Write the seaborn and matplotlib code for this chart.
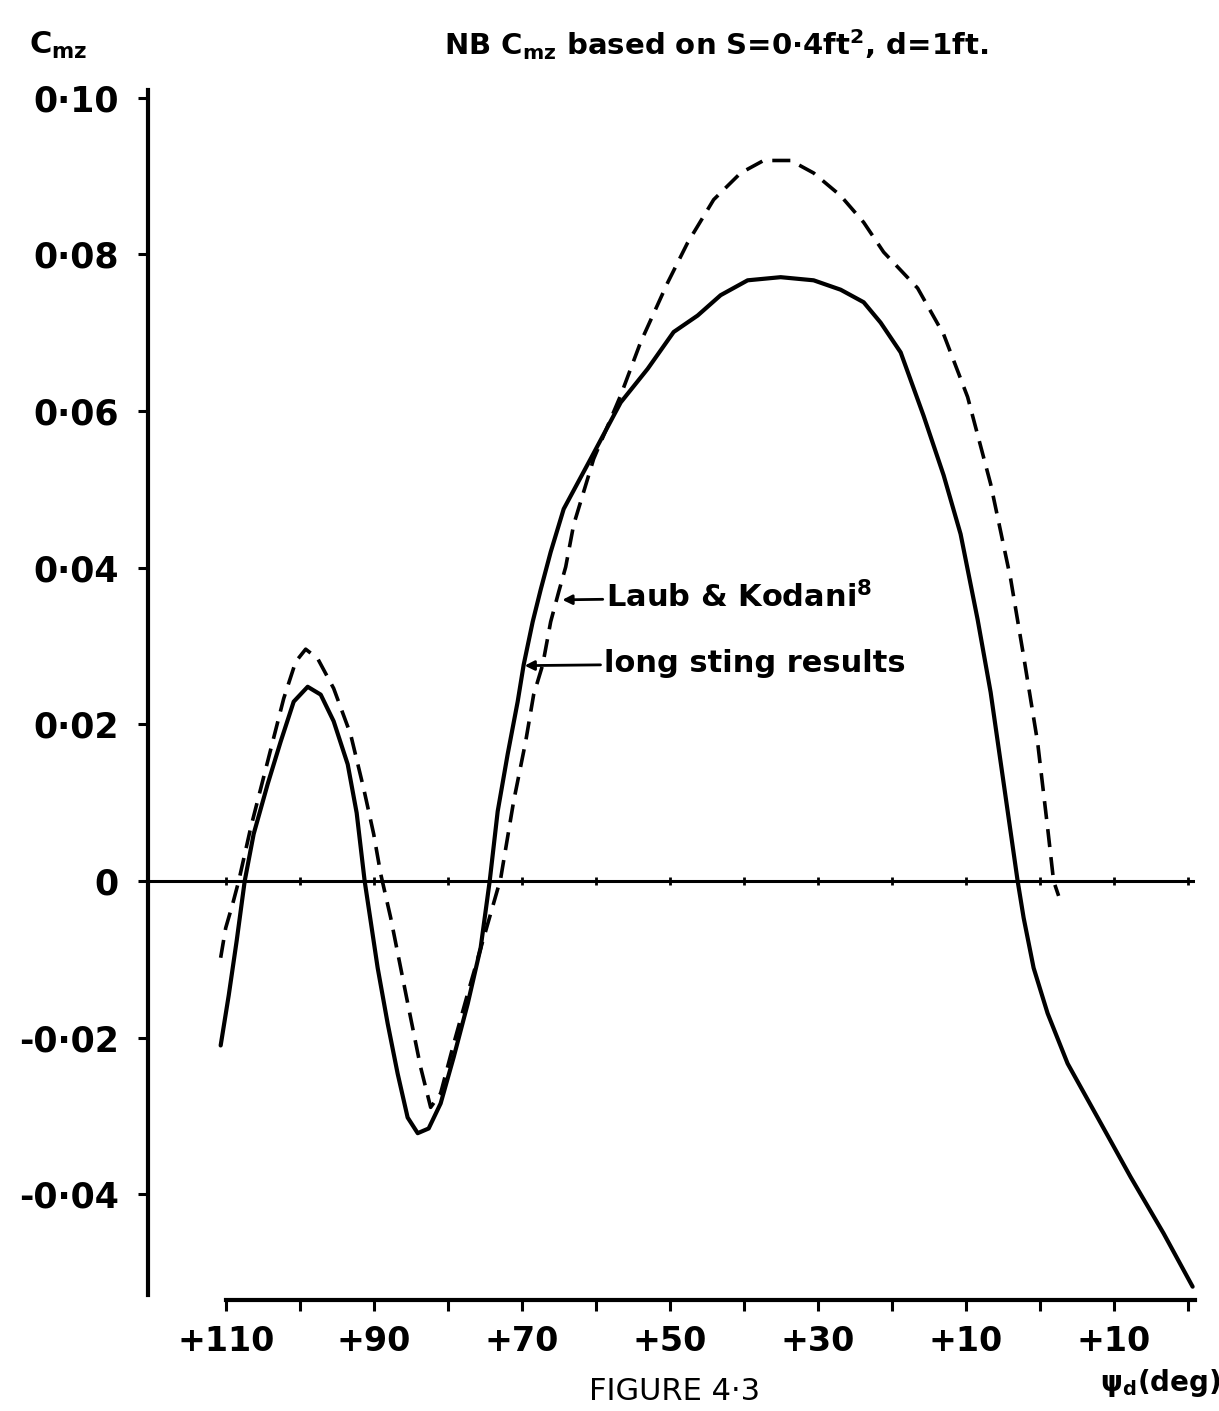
import matplotlib
matplotlib.use("Agg")
import matplotlib.pyplot as plt
import seaborn as sns
import pandas as pd

sns.set_style("ticks")
plt.rcParams['font.family'] = ['DejaVu Sans']
plt.rcParams['mathtext.default'] = 'regular'
plt.rcParams['text.color'] = 'black'
plt.rcParams['xtick.color'] = 'black'
plt.rcParams['ytick.color'] = 'black'
plt.rcParams['axes.edgecolor'] = 'black'
plt.rcParams['lines.solid_joinstyle'] = 'round'

# long sting results (solid)
psi_solid = [110.68, 109.59, 108.51, 107.43, 106.22, 104.32, 102.57, 100.81, 98.92, 97.16,
             95.41, 93.51, 92.30, 91.22, 90.41, 89.46, 88.11, 86.76, 85.41, 84.05,
             82.57, 80.95, 79.19, 77.30, 75.54, 74.32, 73.24, 71.89, 70.54, 69.73,
             68.51, 67.43, 66.08, 64.32, 60.68, 56.62, 52.97, 49.46, 46.22, 43.11,
             39.46, 35.00, 30.54, 26.89, 23.78, 21.49, 18.78, 15.68, 12.97, 10.68,
             8.38, 6.62, 4.86, 2.97, 2.16, 0.81, -1.08, -3.78, -7.84, -12.30,
             -16.76, -20.68]
cmz_solid = [-0.0210, -0.0146, -0.0076, 0.0, 0.0060, 0.0124, 0.0178, 0.0229, 0.0248, 0.0238,
             0.0204, 0.0149, 0.0087, 0.0, -0.0051, -0.0111, -0.0182, -0.0246, -0.0302, -0.0322,
             -0.0316, -0.0284, -0.0225, -0.0157, -0.0085, 0.0, 0.0089, 0.0162, 0.0229, 0.0276,
             0.0331, 0.0372, 0.0420, 0.0475, 0.0539, 0.0611, 0.0654, 0.0701, 0.0722, 0.0748,
             0.0767, 0.0771, 0.0767, 0.0755, 0.0739, 0.0713, 0.0675, 0.0594, 0.0518, 0.0443,
             0.0334, 0.0241, 0.0125, 0.0, -0.0047, -0.0111, -0.0169, -0.0233, -0.0302, -0.0378,
             -0.0450, -0.0518]

# Laub & Kodani (dashed)
psi_dashed = [110.68, 110.00, 109.05, 108.24, 106.62, 104.32, 102.16, 100.54, 99.19, 97.57,
              95.41, 93.11, 91.35, 90.00, 89.05, 87.70, 86.35, 85.00, 83.65, 82.30,
              80.95, 79.19, 77.30, 75.14, 72.84, 71.08, 69.46, 68.38, 67.16, 66.08,
              65.00, 64.05, 62.97, 60.27, 56.62, 53.92, 50.27, 47.57, 44.05, 40.41,
              37.30, 33.65, 30.54, 26.89, 23.78, 21.08, 16.49, 12.97, 9.73, 6.62,
              3.92, 2.16, 0.27, -1.08, -1.89, -2.57]
cmz_dashed = [-0.0098, -0.0060, -0.0029, 0.0, 0.0068, 0.0153, 0.0233, 0.0280, 0.0296, 0.0284,
              0.0246, 0.0187, 0.0118, 0.0060, 0.0009, -0.0047, -0.0111, -0.0175, -0.0238, -0.0289,
              -0.0271, -0.0208, -0.0144, -0.0073, 0.0003, 0.0102, 0.0178, 0.0238, 0.0276, 0.0331,
              0.0369, 0.0401, 0.0455, 0.0539, 0.0620, 0.0688, 0.0764, 0.0815, 0.0870, 0.0904,
              0.0920, 0.0920, 0.0904, 0.0875, 0.0841, 0.0803, 0.0757, 0.0698, 0.0618, 0.0507,
              0.0386, 0.0287, 0.0177, 0.0068, 0.0, -0.0019]

y_ticks = [0.10, 0.08, 0.06, 0.04, 0.02, 0.0, -0.02, -0.04]
y_labels = ['0·10', '0·08', '0·06', '0·04', '0·02', '0', '-0·02', '-0·04']
x_ticks = [110, 90, 70, 50, 30, 10, -10]
x_labels = ['+110', '+90', '+70', '+50', '+30', '+10', '+10']
x_minor = [100, 80, 60, 40, 20, 0, -20]
zero_marks = [110, 100, 90, 80, 70, 60, 50, 40, 30, 20, 10, 0, -10, -20]

df_solid = pd.DataFrame({'psi': psi_solid, 'cmz': cmz_solid})
df_dashed = pd.DataFrame({'psi': psi_dashed, 'cmz': cmz_dashed})

fig = plt.figure(figsize=(12.19, 14.11), dpi=100)
ax = fig.add_axes([148 / 1219, 1 - 1300 / 1411, (1195 - 148) / 1219, (1300 - 90) / 1411])

ax.axhline(0, color='black', lw=2.2, zorder=1)
ax.plot(zero_marks, [0] * len(zero_marks), ls='none', marker='|', ms=6, mew=2, color='black')

sns.lineplot(data=df_solid, x='psi', y='cmz', sort=False, color='black', lw=3.0, ax=ax)
sns.lineplot(data=df_dashed, x='psi', y='cmz', sort=False, color='black', lw=2.6, ax=ax)
ax.lines[-1].set_dashes((5, 2.8))

ax.set_xlim(120.5, -21)
ax.set_ylim(-0.0535, 0.101)

sns.despine(ax=ax, top=True, right=True)
ax.spines['left'].set_linewidth(3)
ax.spines['bottom'].set_linewidth(3)
ax.spines['bottom'].set_bounds(-21, 110)
ax.spines['left'].set_bounds(-0.0528, 0.101)

ax.set_xticks(x_ticks)
ax.set_xticklabels(x_labels)
ax.set_xticks(x_minor, minor=True)
ax.set_yticks(y_ticks)
ax.set_yticklabels(y_labels)
ax.tick_params(axis='x', which='both', direction='out', length=8, width=2.2, pad=10,
               labelsize=24)
ax.tick_params(axis='y', direction='out', length=7, width=2.2, pad=14, labelsize=25)
for lab in ax.get_xticklabels() + ax.get_yticklabels():
    lab.set_fontweight('bold')
ax.set_xlabel('')
ax.set_ylabel('')

ax.annotate('Laub & Kodani$^{8}$', xy=(64.5, 0.0359), xytext=(58.6, 0.0362),
            ha='left', va='center', fontsize=22, fontweight='bold',
            arrowprops=dict(arrowstyle='-|>', color='black', lw=2, mutation_scale=14,
                            shrinkA=0, shrinkB=0))
ax.annotate('long sting results', xy=(69.6, 0.0275), xytext=(58.9, 0.0278),
            ha='left', va='center', fontsize=22, fontweight='bold',
            arrowprops=dict(arrowstyle='-|>', color='black', lw=2, mutation_scale=14,
                            shrinkA=0, shrinkB=0))

fig.text(58 / 1219, 1 - 45 / 1411, 'C$_{mz}$', ha='center', va='center',
         fontsize=22, fontweight='bold')
fig.text(716 / 1219, 1 - 45 / 1411, 'NB C$_{mz}$ based on S=0·4ft$^{2}$, d=1ft.',
         ha='center', va='center', fontsize=21, fontweight='bold')
fig.text(1160 / 1219, 1 - 1383 / 1411, 'ψ$_{d}$(deg)', ha='center', va='center',
         fontsize=20, fontweight='bold')
fig.text(675 / 1219, 1 - 1392 / 1411, 'FIGURE 4·3', ha='center', va='center',
         fontsize=22)

fig.savefig('out.png', dpi=100)
